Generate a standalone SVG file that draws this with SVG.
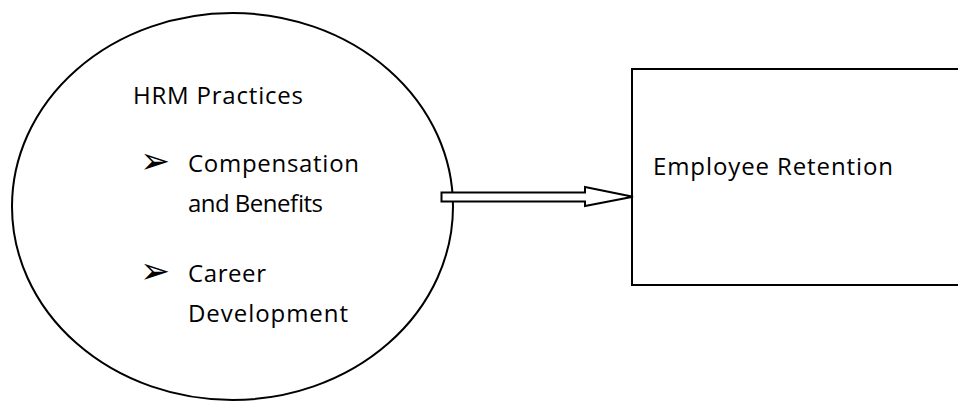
<svg xmlns="http://www.w3.org/2000/svg" width="958" height="401" viewBox="0 0 958 401">
<style>
.shape{fill:#fff;stroke:#000;stroke-width:2}
.t{font-family:"Open Sans","Liberation Sans",sans-serif;font-size:24px;fill:#000}
.b{font-family:"DejaVu Sans",sans-serif;font-size:36px;fill:#000}
</style>
<rect width="958" height="401" fill="#fff"/>
<g id="hrm">
<ellipse class="shape" cx="232.5" cy="206.5" rx="220.5" ry="193.5"/>
<text class="t" x="133" y="104" textLength="170">HRM Practices</text>
<text class="b" x="140" y="173">➢</text>
<text class="t" x="188" y="172" textLength="171">Compensation</text>
<text class="t" x="188" y="212" textLength="135">and Benefits</text>
<text class="b" x="140" y="283">➢</text>
<text class="t" x="188" y="282" textLength="78">Career</text>
<text class="t" x="188" y="322" textLength="160">Development</text>
</g>
<g id="retention">
<rect class="shape" x="632" y="69" width="330" height="216"/>
<text class="t" x="653" y="175" textLength="240">Employee Retention</text>
</g>
<g id="connectors">
<polygon class="shape" points="441.5,192.5 585,192.5 585,187 633,196.8 585,206 585,201.5 441.5,201.5"/>
</g>
</svg>
